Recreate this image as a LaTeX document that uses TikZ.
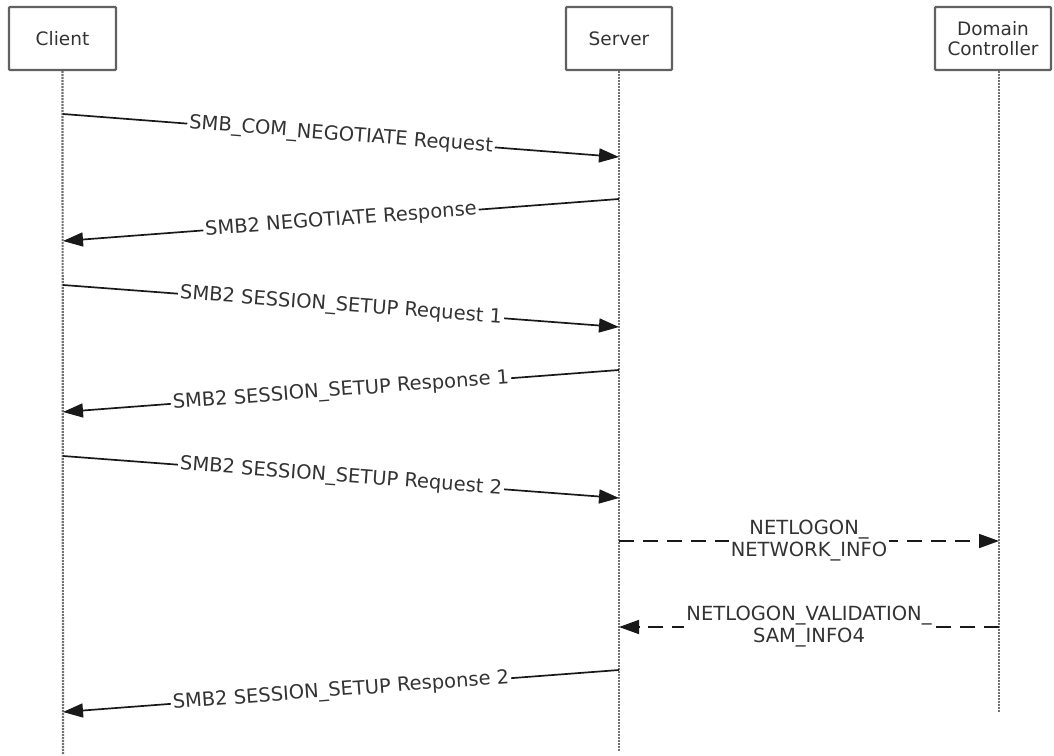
\documentclass[tikz,border=0pt]{standalone}
\usepackage{fontspec}
\setmainfont{DejaVu Sans}
\usetikzlibrary{arrows.meta}
\usetikzlibrary{positioning}

\begin{document}
\begin{tikzpicture}[x=1pt,y=-1pt,
    actor/.style={draw=black!62,line width=2.2pt,rounded corners=1pt,minimum height=63pt,
      align=center,text=black!80,font=\fontsize{18.5}{20.5}\selectfont},
    lifeline/.style={draw=black!55,line width=2.2pt,dash pattern=on 2pt off 1pt},
    msglbl/.style={midway,sloped,fill=white,inner sep=2pt,align=center,
      text=black!80,font=\fontsize{19.5}{22}\selectfont}]
    \useasboundingbox (0,0) rectangle (1054,755);
    \begin{scope}[every node/.style={actor}]
      \node[minimum width=107pt] (client) at (62.5,38.5) {Client};
      \node[minimum width=106pt] (server) at (619,38.5) {Server};
      \node[minimum width=116pt] (dc) at (993,38.5) {Domain\\Controller};
    \end{scope}
    \coordinate (clientend) at (63,755);
    \coordinate (serverend) at (619,752);
    \coordinate (dcend) at (999,713);
    \path[lifeline] (client.south) -- (clientend);
    \path[lifeline] (server.south) -- (serverend);
    \path[lifeline] (dc.south -| dcend) -- (dcend);
    \coordinate (c1) at (63,114);  \coordinate (s1) at (619,157);
    \coordinate (s2) at (619,199); \coordinate (c2) at (63,241);
    \coordinate (c3) at (63,285);  \coordinate (s3) at (619,327);
    \coordinate (s4) at (619,370); \coordinate (c4) at (63,412);
    \coordinate (c5) at (63,456);  \coordinate (s5) at (619,498);
    \coordinate (s6) at (619,541); \coordinate (d6) at (999,541);
    \coordinate (d7) at (999,627); \coordinate (s7) at (619,627);
    \coordinate (s8) at (619,670); \coordinate (c8) at (63,712);
    \begin{scope}[every edge/.style={draw=black!90,line width=1.7pt,
        -{Triangle[length=20pt,width=14pt]}}]
      \path (c1) edge node[msglbl] {SMB\_COM\_NEGOTIATE Request} (s1);
      \path (s2) edge node[msglbl] {SMB2 NEGOTIATE Response} (c2);
      \path (c3) edge node[msglbl] {SMB2 SESSION\_SETUP Request 1} (s3);
      \path (s4) edge node[msglbl] {SMB2 SESSION\_SETUP Response 1} (c4);
      \path (c5) edge node[msglbl] {SMB2 SESSION\_SETUP Request 2} (s5);
      \path (s6) edge[dash pattern=on 15pt off 9pt] node[msglbl] {NETLOGON\_\\NETWORK\_INFO} (d6);
      \path (d7) edge[dash pattern=on 15pt off 9pt] node[msglbl] {NETLOGON\_VALIDATION\_\\SAM\_INFO4} (s7);
      \path (s8) edge node[msglbl] {SMB2 SESSION\_SETUP Response 2} (c8);
    \end{scope}
\end{tikzpicture}
\end{document}
